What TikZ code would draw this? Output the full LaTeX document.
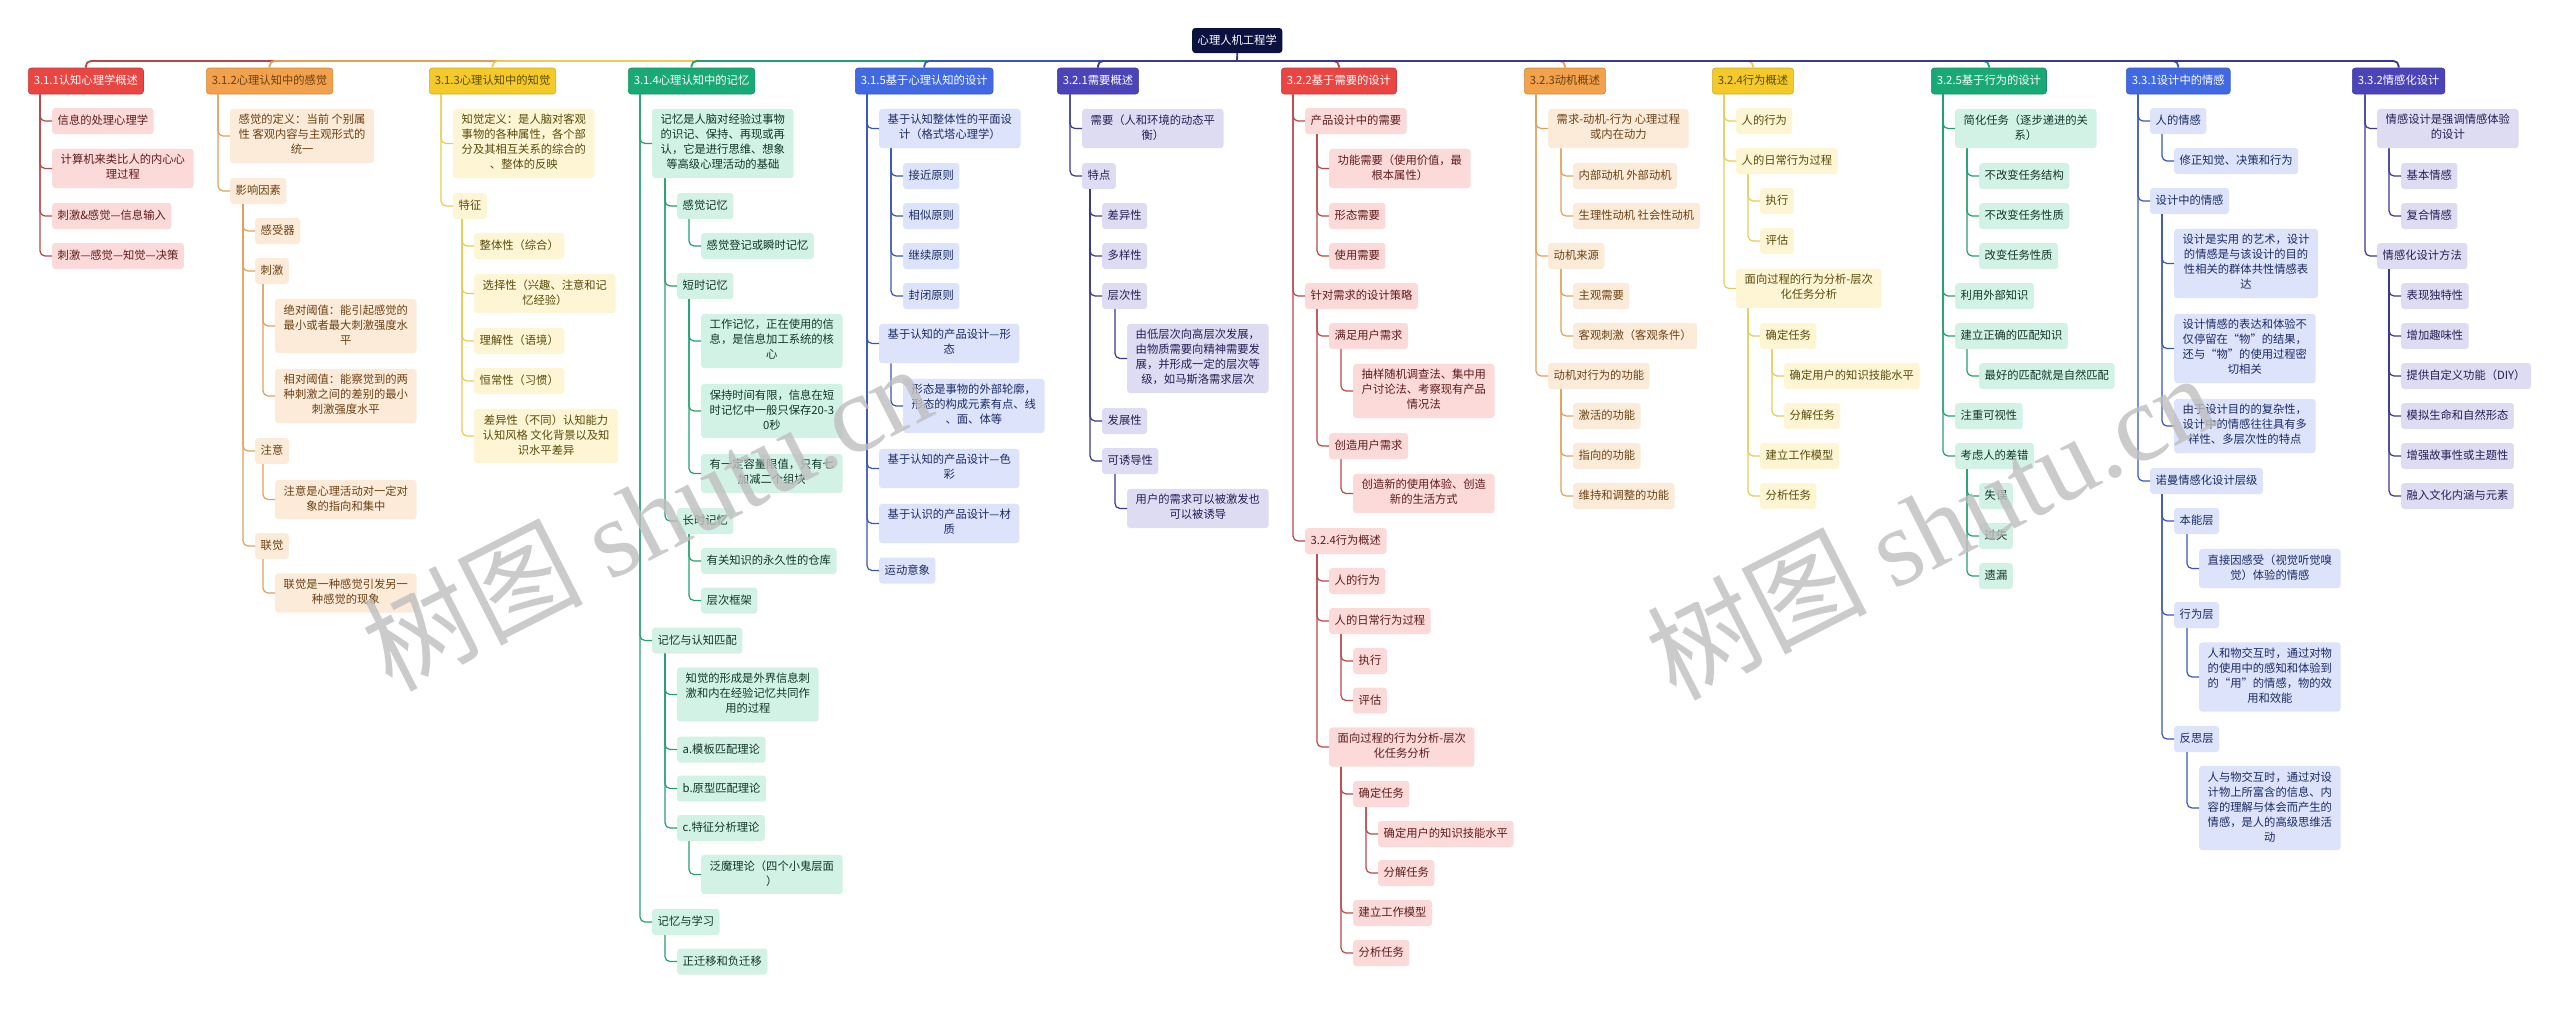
\documentclass[tikz,border=0pt]{standalone}
\usepackage{fontspec}
\setmainfont{Noto Sans CJK SC}
\newfontfamily\wmfont{Liberation Serif}
\usetikzlibrary{calc}

\definecolor{rootc}{HTML}{0C1240}
\definecolor{redB}{HTML}{E84543}\definecolor{redF}{HTML}{FCDADA}\definecolor{redT}{HTML}{5E1A1A}\definecolor{redL}{HTML}{B8474A}
\definecolor{oraB}{HTML}{F2A14C}\definecolor{oraF}{HTML}{FDEBD9}\definecolor{oraT}{HTML}{6B4012}\definecolor{oraL}{HTML}{DDA15A}
\definecolor{yelB}{HTML}{F4CA2A}\definecolor{yelF}{HTML}{FDF5D3}\definecolor{yelT}{HTML}{5A4A0A}\definecolor{yelL}{HTML}{E6CD55}
\definecolor{grnB}{HTML}{19A976}\definecolor{grnF}{HTML}{D2F2E5}\definecolor{grnT}{HTML}{10352A}\definecolor{grnL}{HTML}{22A070}
\definecolor{bluB}{HTML}{4169E1}\definecolor{bluF}{HTML}{DCE3FA}\definecolor{bluT}{HTML}{1B2A66}\definecolor{bluL}{HTML}{3A55B5}
\definecolor{indB}{HTML}{4B44B8}\definecolor{indF}{HTML}{DEDCF2}\definecolor{indT}{HTML}{231E55}\definecolor{indL}{HTML}{3B3690}
\definecolor{wmgray}{HTML}{BEBEBE}

\newcommand{\mst}{\rule[-3.6pt]{0pt}{15pt}}

\tikzset{
  base/.style={font=\fontsize{11.3}{15}\selectfont, rounded corners=3pt,
    inner xsep=5.5pt, inner ysep=5.5pt, anchor=west, align=center,
    execute at begin node=\mst, execute at end node=\mst},
  multi/.style={inner xsep=8.5pt},
  topic/.style 2 args={base, fill=#1, draw=#1!85!black, line width=0.6pt, text=#2},
  leaf/.style 2 args={base, fill=#1, text=#2},
  link/.style={draw=#1, line width=1.2pt, rounded corners=5pt},
  bus/.style={draw=#1, line width=1.8pt, rounded corners=5pt},
  redleaf/.style={leaf={redF}{redT}}, oraleaf/.style={leaf={oraF}{oraT}},
  yelleaf/.style={leaf={yelF}{yelT}}, grnleaf/.style={leaf={grnF}{grnT}},
  bluleaf/.style={leaf={bluF}{bluT}}, indleaf/.style={leaf={indF}{indT}},
  watermark/.style={text=wmgray, opacity=0.8, rotate=27, font=\fontsize{110}{110}\selectfont}
}

\begin{document}
\begin{tikzpicture}[x=1pt,y=-1pt]
\useasboundingbox (0,0) rectangle (2560,1009);

% root
\node[base, fill=rootc, text=white, inner ysep=5pt] (root) at (1192,40.5) {心理人机工程学};
\coordinate (bus) at (1237,61);

% topics
\node[topic={redB}{white}] (A) at (28,81) {3.1.1认知心理学概述};
\node[topic={oraB}{oraT}] (B) at (206,81) {3.1.2心理认知中的感觉};
\node[topic={yelB}{yelT}] (C) at (429,81) {3.1.3心理认知中的知觉};
\node[topic={grnB}{white}] (D) at (628,81) {3.1.4心理认知中的记忆};
\node[topic={bluB}{white}] (E) at (855,81) {3.1.5基于心理认知的设计};
\node[topic={indB}{white}] (F) at (1057,81) {3.2.1需要概述};
\node[topic={redB}{white}] (G) at (1281,81) {3.2.2基于需要的设计};
\node[topic={oraB}{oraT}] (H) at (1524,81) {3.2.3动机概述};
\node[topic={yelB}{yelT}] (I) at (1712,81) {3.2.4行为概述};
\node[topic={grnB}{white}] (J) at (1931,81) {3.2.5基于行为的设计};
\node[topic={bluB}{white}] (K) at (2126,81) {3.3.1设计中的情感};
\node[topic={indB}{white}] (L) at (2352,81) {3.3.2情感化设计};

% bus lines
\draw[bus=indL] (root.south) -- (bus);
\draw[bus=redL] (bus) -| (A.north);
\draw[bus=oraL] (bus) -| (B.north);
\draw[bus=yelL] (bus) -| (C.north);
\draw[bus=grnL] (bus) -| (D.north);
\draw[bus=bluL] (bus) -| (E.north);
\draw[bus=indL] (bus) -| (F.north);
\draw[bus=redL] (bus) -| (G.north);
\draw[bus=oraL] (bus) -| (H.north);
\draw[bus=yelL] (bus) -| (I.north);
\draw[bus=grnL] (bus) -| (J.north);
\draw[bus=bluL] (bus) -| (K.north);
\draw[bus=indL] (bus) -| (L.north);

% 3.1.1
\node[redleaf] (a1) at (52,121) {信息的处理心理学};
\node[redleaf, multi] (a2) at (52,168.5) {计算机来类比人的内心心\\理过程};
\node[redleaf] (a3) at (52,216) {刺激\&感觉—信息输入};
\node[redleaf] (a4) at (52,256) {刺激—感觉—知觉—决策};
\foreach \p/\c in {A/a1,A/a2,A/a3,A/a4}
  \draw[link=redL] ($(\p.south -| \c.west)+(-12,0)$) |- (\c.west);

% 3.1.2
\node[oraleaf, multi] (b1) at (230,136) {感觉的定义：当前 个别属\\性 客观内容与主观形式的\\统一};
\node[oraleaf] (b2) at (230,191) {影响因素};
\node[oraleaf] (b21) at (255,231) {感受器};
\node[oraleaf] (b22) at (255,271) {刺激};
\node[oraleaf, multi] (b221) at (275,326) {绝对阈值：能引起感觉的\\最小或者最大刺激强度水\\平};
\node[oraleaf, multi] (b222) at (275,396) {相对阈值：能察觉到的两\\种刺激之间的差别的最小\\刺激强度水平};
\node[oraleaf] (b23) at (255,451) {注意};
\node[oraleaf, multi] (b231) at (275,499.5) {注意是心理活动对一定对\\象的指向和集中};
\node[oraleaf] (b24) at (255,546) {联觉};
\node[oraleaf, multi] (b241) at (275,593) {联觉是一种感觉引发另一\\种感觉的现象};
\foreach \p/\c in {B/b1,B/b2,b2/b21,b2/b22,b2/b23,b2/b24,b22/b221,b22/b222,b23/b231,b24/b241}
  \draw[link=oraL] ($(\p.south -| \c.west)+(-12,0)$) |- (\c.west);

% 3.1.3
\node[yelleaf, multi] (c1) at (453,143.5) {知觉定义：是人脑对客观\\事物的各种属性，各个部\\分及其相互关系的综合的\\、整体的反映};
\node[yelleaf] (c2) at (453,206) {特征};
\node[yelleaf] (c21) at (474,246) {整体性（综合）};
\node[yelleaf, multi] (c22) at (474,293.5) {选择性（兴趣、注意和记\\忆经验）};
\node[yelleaf] (c23) at (474,341) {理解性（语境）};
\node[yelleaf] (c24) at (474,381) {恒常性（习惯）};
\node[yelleaf, multi] (c25) at (474,436) {差异性（不同）认知能力\\认知风格 文化背景以及知\\识水平差异};
\foreach \p/\c in {C/c1,C/c2,c2/c21,c2/c22,c2/c23,c2/c24,c2/c25}
  \draw[link=yelL] ($(\p.south -| \c.west)+(-12,0)$) |- (\c.west);

% 3.1.4
\node[grnleaf, multi] (d1) at (652,143.5) {记忆是人脑对经验过事物\\的识记、保持、再现或再\\认，它是进行思维、想象\\等高级心理活动的基础};
\node[grnleaf] (d11) at (677,206) {感觉记忆};
\node[grnleaf] (d111) at (701,246) {感觉登记或瞬时记忆};
\node[grnleaf] (d12) at (677,286) {短时记忆};
\node[grnleaf, multi] (d121) at (701,341) {工作记忆，正在使用的信\\息，是信息加工系统的核\\心};
\node[grnleaf, multi] (d122) at (701,411) {保持时间有限，信息在短\\时记忆中一般只保存20-3\\0秒};
\node[grnleaf, multi] (d123) at (701,473.5) {有一定容量限值，只有七\\加减二个组块};
\node[grnleaf] (d13) at (677,521) {长时记忆};
\node[grnleaf] (d131) at (701,561) {有关知识的永久性的仓库};
\node[grnleaf] (d132) at (701,600.5) {层次框架};
\node[grnleaf] (d2) at (652,640.5) {记忆与认知匹配};
\node[grnleaf, multi] (d21) at (677,694.5) {知觉的形成是外界信息刺\\激和内在经验记忆共同作\\用的过程};
\node[grnleaf] (d22) at (677,749.5) {a.模板匹配理论};
\node[grnleaf] (d23) at (677,788.5) {b.原型匹配理论};
\node[grnleaf] (d24) at (677,828) {c.特征分析理论};
\node[grnleaf, multi] (d241) at (701,874.5) {泛魔理论（四个小鬼层面\\）};
\node[grnleaf] (d3) at (652,922) {记忆与学习};
\node[grnleaf] (d31) at (677,961.5) {正迁移和负迁移};
\foreach \p/\c in {D/d1,D/d2,D/d3,d1/d11,d1/d12,d1/d13,d11/d111,d12/d121,d12/d122,d12/d123,
    d13/d131,d13/d132,d2/d21,d2/d22,d2/d23,d2/d24,d24/d241,d3/d31}
  \draw[link=grnL] ($(\p.south -| \c.west)+(-12,0)$) |- (\c.west);

% 3.1.5
\node[bluleaf, multi] (e1) at (879,128.5) {基于认知整体性的平面设\\计（格式塔心理学）};
\node[bluleaf] (e11) at (903,176) {接近原则};
\node[bluleaf] (e12) at (903,216) {相似原则};
\node[bluleaf] (e13) at (903,256) {继续原则};
\node[bluleaf] (e14) at (903,296) {封闭原则};
\node[bluleaf, multi] (e2) at (879,343.5) {基于认知的产品设计—形\\态};
\node[bluleaf, multi] (e21) at (903,406) {形态是事物的外部轮廓，\\形态的构成元素有点、线\\、面、体等};
\node[bluleaf, multi] (e3) at (879,468.5) {基于认知的产品设计—色\\彩};
\node[bluleaf, multi] (e4) at (879,523.5) {基于认识的产品设计—材\\质};
\node[bluleaf] (e5) at (879,570.5) {运动意象};
\foreach \p/\c in {E/e1,E/e2,E/e3,E/e4,E/e5,e1/e11,e1/e12,e1/e13,e1/e14,e2/e21}
  \draw[link=bluL] ($(\p.south -| \c.west)+(-12,0)$) |- (\c.west);

% 3.2.1
\node[indleaf, multi] (f1) at (1082,128.5) {需要（人和环境的动态平\\衡）};
\node[indleaf] (f2) at (1082,176) {特点};
\node[indleaf] (f21) at (1102,216) {差异性};
\node[indleaf] (f22) at (1102,256) {多样性};
\node[indleaf] (f23) at (1102,296) {层次性};
\node[indleaf, multi] (f231) at (1127,358.5) {由低层次向高层次发展，\\由物质需要向精神需要发\\展，并形成一定的层次等\\级，如马斯洛需求层次};
\node[indleaf] (f24) at (1102,421) {发展性};
\node[indleaf] (f25) at (1102,461) {可诱导性};
\node[indleaf, multi] (f251) at (1127,508.5) {用户的需求可以被激发也\\可以被诱导};
\foreach \p/\c in {F/f1,F/f2,f2/f21,f2/f22,f2/f23,f2/f24,f2/f25,f23/f231,f25/f251}
  \draw[link=indL] ($(\p.south -| \c.west)+(-12,0)$) |- (\c.west);

% 3.2.2
\node[redleaf] (g1) at (1305,121) {产品设计中的需要};
\node[redleaf, multi] (g11) at (1329,168.5) {功能需要（使用价值，最\\根本属性）};
\node[redleaf] (g12) at (1329,216) {形态需要};
\node[redleaf] (g13) at (1329,256) {使用需要};
\node[redleaf] (g2) at (1305,296) {针对需求的设计策略};
\node[redleaf] (g21) at (1329,336) {满足用户需求};
\node[redleaf, multi] (g211) at (1353,391) {抽样随机调查法、集中用\\户讨论法、考察现有产品\\情况法};
\node[redleaf] (g22) at (1329,446) {创造用户需求};
\node[redleaf, multi] (g221) at (1353,493.5) {创造新的使用体验、创造\\新的生活方式};
\node[redleaf] (g3) at (1305,541) {3.2.4行为概述};
\node[redleaf] (g31) at (1329,581) {人的行为};
\node[redleaf] (g32) at (1329,621) {人的日常行为过程};
\node[redleaf] (g321) at (1353,661) {执行};
\node[redleaf] (g322) at (1353,700.5) {评估};
\node[redleaf, multi] (g33) at (1329,747) {面向过程的行为分析-层次\\化任务分析};
\node[redleaf] (g331) at (1353,794) {确定任务};
\node[redleaf] (g3311) at (1378,834) {确定用户的知识技能水平};
\node[redleaf] (g3312) at (1378,873) {分解任务};
\node[redleaf] (g332) at (1353,913) {建立工作模型};
\node[redleaf] (g333) at (1353,953) {分析任务};
\foreach \p/\c in {G/g1,G/g2,G/g3,g1/g11,g1/g12,g1/g13,g2/g21,g2/g22,g21/g211,g22/g221,
    g3/g31,g3/g32,g3/g33,g32/g321,g32/g322,g33/g331,g33/g332,g33/g333,g331/g3311,g331/g3312}
  \draw[link=redL] ($(\p.south -| \c.west)+(-12,0)$) |- (\c.west);

% 3.2.3
\node[oraleaf, multi] (h1) at (1548,128.5) {需求-动机-行为 心理过程\\或内在动力};
\node[oraleaf] (h11) at (1573,176) {内部动机 外部动机};
\node[oraleaf] (h12) at (1573,216) {生理性动机 社会性动机};
\node[oraleaf] (h2) at (1548,256) {动机来源};
\node[oraleaf] (h21) at (1573,296) {主观需要};
\node[oraleaf] (h22) at (1573,336) {客观刺激（客观条件）};
\node[oraleaf] (h3) at (1548,376) {动机对行为的功能};
\node[oraleaf] (h31) at (1573,416) {激活的功能};
\node[oraleaf] (h32) at (1573,456) {指向的功能};
\node[oraleaf] (h33) at (1573,496) {维持和调整的功能};
\foreach \p/\c in {H/h1,H/h2,H/h3,h1/h11,h1/h12,h2/h21,h2/h22,h3/h31,h3/h32,h3/h33}
  \draw[link=oraL] ($(\p.south -| \c.west)+(-12,0)$) |- (\c.west);

% 3.2.4
\node[yelleaf] (i1) at (1736,121) {人的行为};
\node[yelleaf] (i2) at (1736,161) {人的日常行为过程};
\node[yelleaf] (i21) at (1760,201) {执行};
\node[yelleaf] (i22) at (1760,241) {评估};
\node[yelleaf, multi] (i3) at (1736,288.5) {面向过程的行为分析-层次\\化任务分析};
\node[yelleaf] (i31) at (1760,336) {确定任务};
\node[yelleaf] (i311) at (1784,376) {确定用户的知识技能水平};
\node[yelleaf] (i312) at (1784,416) {分解任务};
\node[yelleaf] (i32) at (1760,456) {建立工作模型};
\node[yelleaf] (i33) at (1760,496) {分析任务};
\foreach \p/\c in {I/i1,I/i2,I/i3,i2/i21,i2/i22,i3/i31,i3/i32,i3/i33,i31/i311,i31/i312}
  \draw[link=yelL] ($(\p.south -| \c.west)+(-12,0)$) |- (\c.west);

% 3.2.5
\node[grnleaf, multi] (j1) at (1955,128.5) {简化任务（逐步递进的关\\系）};
\node[grnleaf] (j11) at (1979,176) {不改变任务结构};
\node[grnleaf] (j12) at (1979,216) {不改变任务性质};
\node[grnleaf] (j13) at (1979,256) {改变任务性质};
\node[grnleaf] (j2) at (1955,296) {利用外部知识};
\node[grnleaf] (j3) at (1955,336) {建立正确的匹配知识};
\node[grnleaf] (j31) at (1979,376) {最好的匹配就是自然匹配};
\node[grnleaf] (j4) at (1955,416) {注重可视性};
\node[grnleaf] (j5) at (1955,456) {考虑人的差错};
\node[grnleaf] (j51) at (1979,496) {失误};
\node[grnleaf] (j52) at (1979,536) {过失};
\node[grnleaf] (j53) at (1979,576) {遗漏};
\foreach \p/\c in {J/j1,J/j2,J/j3,J/j4,J/j5,j1/j11,j1/j12,j1/j13,j3/j31,j5/j51,j5/j52,j5/j53}
  \draw[link=grnL] ($(\p.south -| \c.west)+(-12,0)$) |- (\c.west);

% 3.3.1
\node[bluleaf] (k1) at (2150,121) {人的情感};
\node[bluleaf] (k11) at (2174,161) {修正知觉、决策和行为};
\node[bluleaf] (k2) at (2150,201) {设计中的情感};
\node[bluleaf, multi] (k21) at (2174,263.5) {设计是实用 的艺术，设计\\的情感是与该设计的目的\\性相关的群体共性情感表\\达};
\node[bluleaf, multi] (k22) at (2174,348.5) {设计情感的表达和体验不\\仅停留在“物”的结果，\\还与“物”的使用过程密\\切相关};
\node[bluleaf, multi] (k23) at (2174,426) {由于设计目的的复杂性，\\设计中的情感往往具有多\\样性、多层次性的特点};
\node[bluleaf] (k3) at (2150,481) {诺曼情感化设计层级};
\node[bluleaf] (k31) at (2174,521) {本能层};
\node[bluleaf, multi] (k311) at (2199,568.5) {直接因感受（视觉听觉嗅\\觉）体验的情感};
\node[bluleaf] (k32) at (2174,615) {行为层};
\node[bluleaf, multi] (k321) at (2199,677) {人和物交互时，通过对物\\的使用中的感知和体验到\\的“用”的情感，物的效\\用和效能};
\node[bluleaf] (k33) at (2174,739) {反思层};
\node[bluleaf, multi] (k331) at (2199,808) {人与物交互时，通过对设\\计物上所富含的信息、内\\容的理解与体会而产生的\\情感，是人的高级思维活\\动};
\foreach \p/\c in {K/k1,K/k2,K/k3,k1/k11,k2/k21,k2/k22,k2/k23,k3/k31,k3/k32,k3/k33,
    k31/k311,k32/k321,k33/k331}
  \draw[link=bluL] ($(\p.south -| \c.west)+(-12,0)$) |- (\c.west);

% 3.3.2
\node[indleaf, multi] (l1) at (2377,128.5) {情感设计是强调情感体验\\的设计};
\node[indleaf] (l11) at (2401,176) {基本情感};
\node[indleaf] (l12) at (2401,216) {复合情感};
\node[indleaf] (l2) at (2377,256) {情感化设计方法};
\node[indleaf] (l21) at (2401,296) {表现独特性};
\node[indleaf] (l22) at (2401,336) {增加趣味性};
\node[indleaf] (l23) at (2401,376) {提供自定义功能（DIY）};
\node[indleaf] (l24) at (2401,416) {模拟生命和自然形态};
\node[indleaf] (l25) at (2401,456) {增强故事性或主题性};
\node[indleaf] (l26) at (2401,496) {融入文化内涵与元素};
\foreach \p/\c in {L/l1,L/l2,l1/l11,l1/l12,l2/l21,l2/l22,l2/l23,l2/l24,l2/l25,l2/l26}
  \draw[link=indL] ($(\p.south -| \c.west)+(-12,0)$) |- (\c.west);

% watermark
\node[watermark] (wm1) at (646,516) {树图 {\wmfont shutu.cn}};
\node[watermark] (wm2) at (1930,525) {树图 {\wmfont shutu.cn}};
\end{tikzpicture}
\end{document}
